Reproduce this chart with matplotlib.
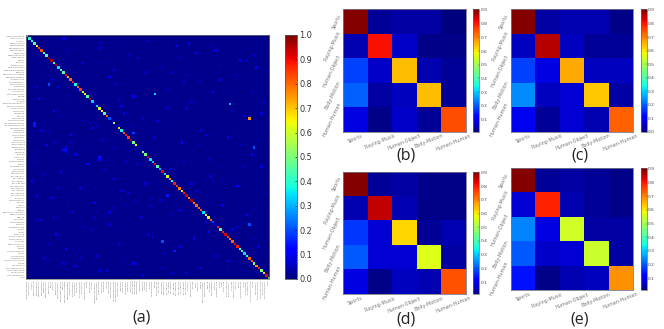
import numpy as np
import matplotlib
matplotlib.use("Agg")
import matplotlib.pyplot as plt
from matplotlib.cm import ScalarMappable
from matplotlib.colors import Normalize

W, H = 664, 329

class_names = ["ApplyEyeMakeup","ApplyLipstick","Archery","BabyCrawling","BalanceBeam","BandMarching","BaseballPitch","Basketball","BasketballDunk","BenchPress","Biking","Billiards","BlowDryHair","BlowingCandles","BodyWeightSquats","Bowling","BoxingPunchingBag","BoxingSpeedBag","BreastStroke","BrushingTeeth","CleanAndJerk","CliffDiving","CricketBowling","CricketShot","CuttingInKitchen","Diving","Drumming","Fencing","FieldHockeyPenalty","FloorGymnastics","FrisbeeCatch","FrontCrawl","GolfSwing","Haircut","Hammering","HammerThrow","HandstandPushups","HandstandWalking","HeadMassage","HighJump","HorseRace","HorseRiding","HulaHoop","IceDancing","JavelinThrow","JugglingBalls","JumpingJack","JumpRope","Kayaking","Knitting","LongJump","Lunges","MilitaryParade","Mixing","MoppingFloor","Nunchucks","ParallelBars","PizzaTossing","PlayingCello","PlayingDaf","PlayingDhol","PlayingFlute","PlayingGuitar","PlayingPiano","PlayingSitar","PlayingTabla","PlayingViolin","PoleVault","PommelHorse","PullUps","Punch","PushUps","Rafting","RockClimbingIndoor","RopeClimbing","Rowing","SalsaSpin","ShavingBeard","Shotput","SkateBoarding","Skiing","Skijet","SkyDiving","SoccerJuggling","SoccerPenalty","StillRings","SumoWrestling","Surfing","Swing","TableTennisShot","TaiChi","TennisSwing","ThrowDiscus","TrampolineJumping","Typing","UnevenBars","VolleyballSpiking","WalkingWithDog","WallPushups","WritingOnBoard","YoYo"]

diag_values = [.60,.40,.40,.45,.65,.85,.82,.45,.45,.97,
               .95,.45,.95,.35,.45,.45,.90,.72,.80,.88,
               .38,.80,.85,.60,.65,.45,.95,.33,.10,.35,
               .62,.65,.45,.82,.20,.05,.55,.05,.68,.38,
               .82,.88,.85,.95,.50,.62,.05,.05,.50,.50,
               .92,.35,.32,.90,.45,.30,.90,.35,.62,.78,
               .40,.88,.85,.78,.68,.88,.92,.78,.95,.78,
               .80,.80,.82,.35,.60,.65,.80,.20,.05,.88,
               .45,.88,.92,.85,.78,.80,.90,.88,.45,.45,
               .35,.40,.80,.82,.50,.75,.88,.50,.68,.90,.55]

spot_rows = [24,28,34,46,20,36,37,46,47,48,14,40,50,51,47,78,85,89,81,66,
             2,3,5,7,9,10,12,13,15,17,18,22,23,25,26,27,29,30,31,33,
             35,38,39,41,42,43,44,45,49,52,53,54,55,56,58,59,60,61,62,63,
             64,65,67,68,69,70,71,72,73,74,75,76,77,79,80,82,83,84,86,87,
             88,90,91,92,93,94,95,96,97,98,99,6,11,16,19,21,32,8,4,1,
             14,30,36,37,40,41,44,45,52,55,60,66,70,72,75,78,79,83,92,96,
             3,4,6,8,10,11,13,16,18,19,21,24,26,28,31,32,33,34,35,38,
             39,42,43,44,46,48,49,50,51,53,54,56,57,59,61,62,63,64,65,67,
             68,69,71,73,74,76,77,80,82,84,86,87,88,90,91,93,94,95,97,98,
             5,9,12,15,17,20,22,23,25,27,29,37,41,45,47,52,58,60,70,75]
spot_cols = [53,84,92,94,9,3,3,16,16,16,36,44,30,30,15,92,56,61,75,58,
             50,67,30,70,46,88,12,95,60,34,80,21,77,44,5,98,39,66,11,90,
             54,27,72,18,83,31,64,8,93,41,25,97,59,14,76,36,2,49,87,22,
             70,42,10,55,28,81,35,63,19,91,47,6,74,24,85,12,52,69,38,96,
             16,57,29,7,83,44,20,72,33,60,48,78,23,86,65,13,40,94,62,15,
             99,58,26,43,9,74,18,88,65,32,77,4,51,93,11,34,87,69,22,56,
             30,76,17,42,91,33,55,66,10,72,4,28,38,59,85,97,14,48,23,79,
             6,53,96,11,35,64,20,2,75,46,90,31,7,81,68,24,13,39,99,52,
             45,17,70,34,60,4,88,27,50,94,9,63,21,57,78,41,15,83,30,66,
             22,63,80,49,7,37,58,93,17,68,45,29,86,71,52,3,19,95,41,28]
spot_vals = [.35,.30,.75,.20,.20,.15,.15,.12,.14,.12,.12,.18,.15,.12,.14,.20,.20,.15,.12,.15,
             .08,.10,.08,.11,.08,.10,.08,.12,.08,.12,.10,.08,.10,.12,.13,.08,.10,.08,.12,.10,
             .08,.10,.08,.12,.10,.08,.12,.10,.10,.08,.13,.08,.10,.08,.10,.12,.10,.08,.12,.08,
             .10,.08,.10,.08,.12,.10,.08,.10,.08,.12,.10,.08,.10,.08,.10,.12,.08,.10,.08,.10,
             .12,.08,.10,.08,.12,.10,.08,.10,.08,.10,.08,.08,.10,.08,.10,.08,.10,.08,.10,.08,
             .06,.06,.08,.06,.06,.08,.06,.06,.08,.06,.06,.08,.06,.06,.08,.06,.06,.08,.06,.06,
             .05,.07,.05,.06,.08,.05,.06,.07,.05,.06,.08,.05,.07,.05,.06,.08,.05,.06,.07,.05,
             .06,.08,.05,.07,.05,.06,.08,.05,.06,.07,.05,.06,.08,.05,.07,.05,.06,.08,.05,.06,
             .07,.05,.06,.08,.05,.07,.05,.06,.08,.05,.06,.07,.05,.06,.08,.05,.07,.05,.06,.08,
             .04,.05,.04,.05,.04,.05,.04,.05,.04,.05,.04,.05,.04,.05,.04,.05,.04,.05,.04,.05]
background_level = 0.015

group_names = ["Sports", "Playing-Music", "Human-Object", "Body-Motion", "Human-Human"]
matrix_b = [[.90,.03,.04,.04,.01],[.05,.81,.07,.02,.02],[.18,.07,.645,.05,.03],[.21,.04,.06,.645,.03],[.09,.02,.07,.03,.75]]
matrix_c = [[.90,.03,.04,.04,.01],[.05,.86,.05,.02,.02],[.17,.08,.66,.05,.05],[.24,.05,.07,.63,.03],[.09,.02,.07,.04,.73]]
matrix_d = [[.90,.03,.04,.02,.02],[.05,.85,.05,.02,.02],[.17,.08,.62,.03,.05],[.20,.08,.08,.565,.04],[.09,.02,.06,.05,.745]]
matrix_e = [[.90,.03,.04,.03,.02],[.08,.79,.05,.03,.02],[.24,.09,.55,.04,.04],[.20,.07,.08,.545,.04],[.14,.02,.05,.06,.685]]

captions = ["(a)", "(b)", "(c)", "(d)", "(e)"]

plt.rcParams['font.family'] = ['DejaVu Sans']
fig = plt.figure(figsize=(W / 100, H / 100), dpi=100, facecolor='white')

def pix_axes(x0, y0, x1, y1):
    return fig.add_axes([x0 / W, 1 - y1 / H, (x1 - x0) / W, (y1 - y0) / H])

def style_spines(ax, color='#555555', lw=0.6):
    for s in ax.spines.values():
        s.set_color(color)
        s.set_linewidth(lw)

# Large confusion matrix
M = np.full((101, 101), background_level)
M[spot_rows, spot_cols] = spot_vals
M[np.arange(101), np.arange(101)] = diag_values

ax = pix_axes(26, 35, 269.3, 279)
ax.imshow(M, cmap='jet', vmin=0, vmax=1, interpolation='nearest', aspect='auto')
ax.set_xticks(range(101))
ax.set_yticks(range(101))
ax.set_xticklabels(class_names, rotation=90, fontsize=1.6, color='#777777')
ax.set_yticklabels(class_names, fontsize=1.6, color='#777777')
ax.tick_params(direction='in', length=1.2, width=0.25, top=True, right=True, pad=0.8, color='black')
style_spines(ax, '#777777', 0.5)

cax = pix_axes(285.3, 35, 297, 279)
cb = fig.colorbar(ScalarMappable(Normalize(0, 1), 'jet'), cax=cax)
cb.set_ticks(np.arange(0, 1.01, 0.1))
cb.ax.tick_params(direction='in', length=1.5, width=0.4, labelsize=5.9, pad=1.5, labelcolor='#333333')
cb.outline.set_edgecolor('#555555')
cb.outline.set_linewidth(0.6)

# Five-group matrices
panels = [
    (matrix_b, (343.3, 9.3, 465.7, 131.7), (473.3, 479), 0.011, 0.905, np.arange(0.1, 0.95, 0.1)),
    (matrix_c, (511, 9.3, 632.7, 131.7), (641, 646.7), 0.0, 0.905, np.arange(0.0, 0.95, 0.1)),
    (matrix_d, (343.3, 171.7, 465.7, 294.3), (473.3, 479), 0.011, 0.905, np.arange(0.1, 0.95, 0.1)),
    (matrix_e, (511, 168.3, 632.7, 290.3), (641, 646.7), 0.011, 0.905, np.arange(0.1, 0.95, 0.1)),
]
for mat, box, (cx0, cx1), vmin, vmax, ticks in panels:
    a = pix_axes(*box)
    a.imshow(np.array(mat), cmap='jet', vmin=vmin, vmax=vmax, interpolation='nearest', aspect='auto')
    a.set_xticks(range(5))
    a.set_yticks(range(5))
    a.set_xticklabels(group_names, rotation=22, ha='center', va='top', fontsize=3.5, color='#777777')
    a.set_yticklabels(group_names, rotation=65, ha='right', va='center', fontsize=3.5, color='#777777')
    a.tick_params(length=0, pad=1)
    style_spines(a, '#777788', 0.6)
    c = pix_axes(cx0, box[1], cx1, box[3])
    cbs = fig.colorbar(ScalarMappable(Normalize(vmin, vmax), 'jet'), cax=c)
    cbs.set_ticks(ticks)
    cbs.set_ticklabels([f"{t:.1f}" for t in ticks])
    cbs.ax.tick_params(direction='in', length=0.8, width=0.3, labelsize=3.2, pad=1, labelcolor='#444444')
    cbs.outline.set_edgecolor('#666666')
    cbs.outline.set_linewidth(0.5)

caption_xy = [(142, 318), (405.7, 155), (580, 155), (405.7, 319), (580, 319)]
for cap, (x, y) in zip(captions, caption_xy):
    fig.text(x / W, 1 - y / H, cap, ha='center', va='center', fontsize=11.5,
             family='Open Sans', color='#222222')

fig.savefig('out.png', dpi=100)
